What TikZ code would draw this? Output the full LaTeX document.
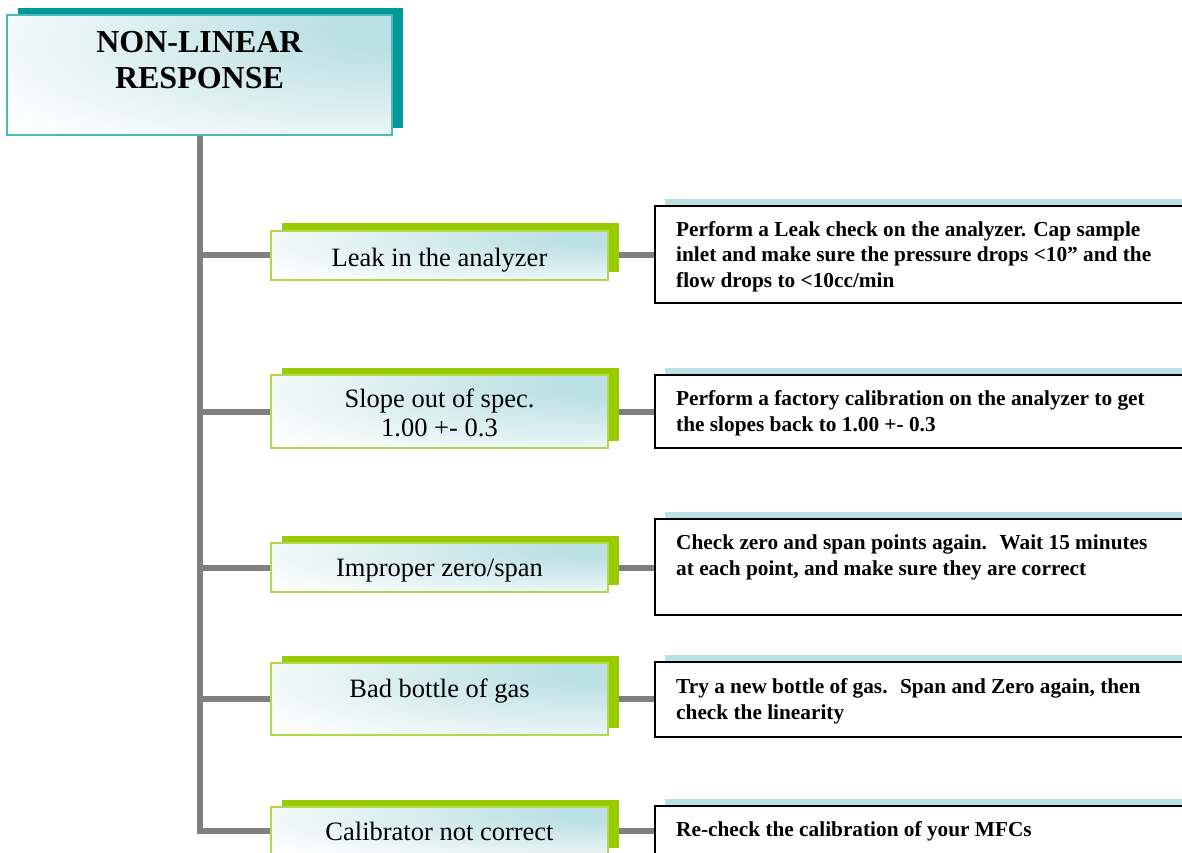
\documentclass[tikz,border=0pt]{standalone}
\usepackage{fontspec}
\setmainfont{Liberation Serif}
\usetikzlibrary{shadows,backgrounds}

\definecolor{tealdark}{HTML}{009999}
\definecolor{tealedge}{HTML}{4DB8B8}
\definecolor{lime}{HTML}{99CC00}
\definecolor{limeedge}{HTML}{B0D84A}
\definecolor{ice}{HTML}{BBE0E3}
\definecolor{wire}{HTML}{808080}

% soft glow toward the upper right of each box
\pgfdeclareradialshading{glow}{\pgfpoint{30bp}{22bp}}{%
  color(0bp)=(ice); color(10bp)=(ice); color(50bp)=(white); color(100bp)=(white)}

\tikzset{
  wire/.style={draw=wire, line width=6pt, line join=miter},
  headbox/.style={rectangle, draw=tealedge, line width=2pt, shading=glow,
    minimum width=385pt, minimum height=120pt, inner sep=0pt,
    general shadow={fill=tealdark, shadow xshift=11pt, shadow yshift=7pt}},
  causebox/.style={rectangle, draw=limeedge, line width=2pt, shading=glow,
    minimum width=337pt, inner sep=0pt,
    general shadow={fill=lime, shadow xshift=11pt, shadow yshift=7.5pt}},
  fixbox/.style={rectangle, draw=black, line width=1.5pt, fill=white,
    minimum width=540pt, inner sep=0pt,
    general shadow={fill=ice, shadow xshift=10pt, shadow yshift=7pt}},
  headtext/.style={anchor=base, align=center, inner sep=0pt,
    font=\fontsize{32}{36}\selectfont\bfseries},
  causetext/.style={anchor=base, align=center, inner sep=0pt,
    font=\fontsize{26.5}{29}\selectfont},
  fixtext/.style={anchor=base west, align=left, inner sep=0pt,
    font=\fontsize{21.3}{25.5}\selectfont\bfseries},
}

\begin{document}
\begin{tikzpicture}[x=1pt, y=-1pt]
  \useasboundingbox (0,0) rectangle (1182,852);
  \clip (0,0) rectangle (1182,852);

  % boxes
  \node[headbox] (head) at (199.5,75) {};
  \node[causebox, minimum height=49pt] (c1) at (439.5,255) {};
  \node[causebox, minimum height=73pt] (c2) at (439.5,411.5) {};
  \node[causebox, minimum height=49pt] (c3) at (439.5,567.5) {};
  \node[causebox, minimum height=72pt] (c4) at (439.5,699) {};
  \node[causebox, minimum height=48pt] (c5) at (439.5,831) {};

  \node[fixbox, minimum height=97pt] (f1) at (925,254.5) {};
  \node[fixbox, minimum height=73pt] (f2) at (925,411.5) {};
  \node[fixbox, minimum height=96pt] (f3) at (925,567) {};
  \node[fixbox, minimum height=75pt] (f4) at (925,699.5) {};
  \node[fixbox, minimum height=50pt] (f5) at (925,831) {};

  % connectors, under the boxes
  \begin{scope}[on background layer]
    \path (head.south) coordinate (top);
    \draw[wire] (top) -- (top |- c5.west) -- (c5.west);
    \foreach \k in {1,2,3,4} {
      \draw[wire] (top |- c\k.west) -- (c\k.west);
    }
    \foreach \k in {1,2,3,4,5} {
      \draw[wire] (c\k.east) -- (c\k.east -| f\k.west);
    }
  \end{scope}

  % labels (base = baseline of the last line)
  \node[headtext] (headlabel) at (199.5,88) {NON-LINEAR\\RESPONSE};

  \node[causetext] (c1label) at (439.5,266) {Leak in the analyzer};
  \node[causetext] (c2label) at (439.5,436) {Slope out of spec.\\1.00 +- 0.3};
  \node[causetext] (c3label) at (439.5,576) {Improper zero/span};
  \node[causetext] (c4label) at (439.5,697) {Bad bottle of gas};
  \node[causetext] (c5label) at (439.5,840) {Calibrator not correct};

  \node[fixtext] (f1label) at (676,287) {Perform a Leak check on the analyzer. Cap sample\\inlet and make sure the pressure drops <10” and the\\flow drops to <10cc/min};
  \node[fixtext] (f2label) at (676,431) {Perform a factory calibration on the analyzer to get\\the slopes back to 1.00 +- 0.3};
  \node[fixtext] (f3label) at (676,575) {Check zero and span points again.~ Wait 15 minutes\\at each point, and make sure they are correct};
  \node[fixtext] (f4label) at (676,719) {Try a new bottle of gas.~ Span and Zero again, then\\check the linearity};
  \node[fixtext] (f5label) at (676,836) {Re-check the calibration of your MFCs};
\end{tikzpicture}
\end{document}
